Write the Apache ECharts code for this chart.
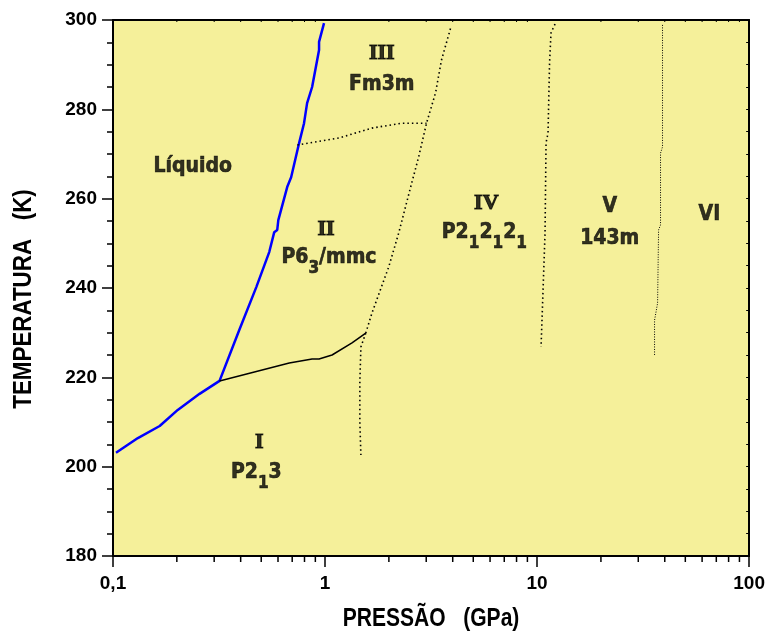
<!DOCTYPE html>
<html lang="pt">
<head>
    <meta charset="UTF-8">
    <title>Diagrama de fases</title>
    <script type="text/javascript" src="https://cdn.jsdelivr.net/npm/echarts@6/dist/echarts.min.js"></script>
    <style>
        html, body { width: 100%; height: 100%; margin: 0; padding: 0; background: #fff; }
        #main { width: 768px; height: 635px; }
    </style>
</head>
<body>
    <div id="main"></div>
    <script>
        // curva de fusão (azul)
        var meltP = [0.1033, 0.131, 0.166, 0.202, 0.256, 0.318, 0.394, 0.474, 0.546, 0.576, 0.595, 0.602, 0.663, 0.692, 0.755, 0.796, 0.823, 0.869, 0.937, 0.937, 0.989];
        var meltT = [203.1, 206.4, 209.1, 212.7, 216.3, 219.2, 230.6, 240.2, 248.1, 252.5, 253.0, 255.2, 262.6, 264.8, 272.5, 276.9, 281.4, 285.0, 293.3, 295.1, 299.3];
        // fronteira I-II (linha contínua)
        var i2P = [0.318, 0.678, 0.869, 0.937, 1.079, 1.34, 1.556];
        var i2T = [219.2, 223.2, 224.1, 224.1, 225.0, 227.7, 229.9];
        // fronteira I-IV (pontilhada, quase vertical)
        var i4P = [1.556, 1.476, 1.459, 1.459, 1.476];
        var i4T = [229.9, 226.8, 219.0, 210.0, 202.6];
        // fronteira II/III - IV
        var iv2P = [1.556, 1.664, 1.996, 2.225, 2.533, 2.762, 3.01, 3.32, 3.54, 3.91];
        var iv2T = [229.9, 234.4, 244.7, 252.3, 262.6, 269.3, 276.9, 283.7, 291.0, 298.2];
        // fronteira II-III
        var ii3P = [0.740, 1.165, 1.664, 2.30, 3.01];
        var ii3T = [272.0, 273.6, 275.8, 276.9, 276.9];
        // fronteira IV-V
        var iv5P = [12.15, 11.63, 11.45, 11.26, 11.02, 10.9, 10.44];
        var iv5T = [299.1, 297.1, 290.4, 274.7, 272.5, 252.3, 226.8];
        // fronteira V-VI
        var v6P = [39.04, 39.04, 39.04, 38.2, 38.2, 37.4, 37.0, 35.8, 35.8];
        var v6T = [298.9, 281.4, 271.6, 270.2, 254.1, 253.0, 236.6, 232.8, 225.0];

        // rótulos das fases
        var labelP = [0.2375, 1.852, 1.852, 1.011, 1.044, 5.76, 5.64, 22.0, 22.0, 64.9, 0.490, 0.474];
        var labelT = [267.2, 292.5, 285.6, 253.1, 245.9, 259.0, 251.5, 258.3, 251.1, 256.5, 205.4, 197.6];
        var labelText = [
            '{s|Líquido}', '{r|III}', '{s|Fm3m}', '{r|II}', '{s|P6}{b|3}{s|/mmc}',
            '{r|IV}', '{s|P2}{b|1}{s|2}{b|1}{s|2}{b|1}', '{s|V}', '{s|143m}', '{s|VI}',
            '{r|I}', '{s|P2}{b|1}{s|3}'
        ];

        var minorTicks = [0.2, 0.3, 0.4, 0.5, 0.6, 0.7, 0.8, 0.9, 2, 3, 4, 5, 6, 7, 8, 9, 20, 30, 40, 50, 60, 70, 80, 90];
        var xTickLabels = { 0.1: '0,1', 1: '1', 10: '10', 100: '100' };

        function zip(a, b) {
            return a.map(function (v, i) { return [v, b[i]]; });
        }

        var sansBold = '"DejaVu Sans Condensed", "Noto Sans", sans-serif';
        var axisFont = '"Liberation Sans", Arial, sans-serif';

        var myChart = echarts.init(document.getElementById('main'));

        var dotted = { color: '#000', width: 1.6, type: [1.5, 3] };

        var option = {
            animation: false,
            backgroundColor: '#fff',
            grid: {
                left: 113, right: 16, top: 20, bottom: 79,
                show: true, backgroundColor: '#f5f09a', borderWidth: 0
            },
            // títulos dos eixos (fonte estreita)
            graphic: [{
                type: 'text', x: 431, y: 619, scaleX: 0.81,
                style: {
                    text: 'PRESSÃO   (GPa)', fill: '#000',
                    font: 'bold 26px "Liberation Sans", Arial, sans-serif',
                    textAlign: 'center', textVerticalAlign: 'middle'
                }
            }, {
                type: 'text', x: 24, y: 299, rotation: Math.PI / 2, scaleX: 0.86,
                style: {
                    text: 'TEMPERATURA   (K)', fill: '#000',
                    font: 'bold 26px "Liberation Sans", Arial, sans-serif',
                    textAlign: 'center', textVerticalAlign: 'middle'
                }
            }],
            xAxis: [{
                type: 'log', logBase: 10, min: 0.1, max: 100,
                position: 'bottom',
                axisLine: { lineStyle: { color: '#000', width: 2 } },
                axisTick: { inside: false, length: 11, lineStyle: { color: '#000', width: 1.5 } },
                splitLine: { show: false },
                axisLabel: {
                    margin: 18, color: '#000', fontSize: 19, fontWeight: 'bold', fontFamily: axisFont,
                    formatter: function (v) {
                        var key = v < 0.5 ? 0.1 : Math.round(v);
                        return xTickLabels[key] || '';
                    }
                }
            }, {
                type: 'log', logBase: 10, min: 0.1, max: 100,
                position: 'top',
                axisLine: { lineStyle: { color: '#000', width: 2 } },
                axisTick: { show: false },
                axisLabel: { show: false },
                splitLine: { show: false }
            }],
            yAxis: [{
                type: 'value', min: 180, max: 300, interval: 20,
                position: 'left',
                axisLine: { lineStyle: { color: '#000', width: 2 } },
                axisTick: { inside: false, length: 11, lineStyle: { color: '#000', width: 1.5 } },
                minorTick: { show: true, splitNumber: 4, length: 6, lineStyle: { color: '#000', width: 1.5 } },
                splitLine: { show: false },
                axisLabel: { margin: 16, color: '#000', fontSize: 19, fontWeight: 'bold', fontFamily: axisFont }
            }, {
                type: 'value', min: 180, max: 300, interval: 5,
                position: 'right',
                axisLine: { lineStyle: { color: '#000', width: 2 } },
                axisTick: { inside: true, length: 3, lineStyle: { color: '#000', width: 1 } },
                axisLabel: { show: false },
                splitLine: { show: false }
            }],
            series: [{
                type: 'line', name: 'fusao', data: zip(meltP, meltT),
                symbol: 'none', lineStyle: { color: '#0000ff', width: 2.5 }
            }, {
                type: 'line', name: 'I-II', data: zip(i2P, i2T),
                symbol: 'none', lineStyle: { color: '#000', width: 1.5 }
            }, {
                type: 'line', name: 'I-IV', data: zip(i4P, i4T),
                symbol: 'none', lineStyle: dotted
            }, {
                type: 'line', name: 'II-IV', data: zip(iv2P, iv2T),
                symbol: 'none', lineStyle: dotted
            }, {
                type: 'line', name: 'II-III', data: zip(ii3P, ii3T),
                symbol: 'none', lineStyle: dotted
            }, {
                type: 'line', name: 'IV-V', data: zip(iv5P, iv5T),
                symbol: 'none', lineStyle: dotted
            }, {
                type: 'line', name: 'V-VI', data: zip(v6P, v6T),
                symbol: 'none', lineStyle: { color: '#000', width: 1, type: [1, 1.5] }
            }, {
                // marcas secundárias do eixo log
                type: 'custom', name: 'ticks', clip: false, silent: true,
                data: minorTicks.map(function (v) { return [v]; }),
                renderItem: function (params, api) {
                    var b = api.coord([api.value(0), 180]);
                    var t = api.coord([api.value(0), 300]);
                    return {
                        type: 'group',
                        children: [
                            { type: 'line', shape: { x1: b[0], y1: b[1], x2: b[0], y2: b[1] + 6 }, style: { stroke: '#000', lineWidth: 1.5 } },
                            { type: 'line', shape: { x1: t[0], y1: t[1], x2: t[0], y2: t[1] + 2 }, style: { stroke: '#000', lineWidth: 1 } }
                        ]
                    };
                }
            }, {
                type: 'scatter', name: 'rotulos',
                data: labelP.map(function (p, i) { return [p, labelT[i], labelText[i]]; }),
                symbol: 'circle', symbolSize: 1,
                itemStyle: { color: 'transparent' },
                silent: true,
                label: {
                    show: true, position: 'inside',
                    formatter: function (p) { return p.data[2]; },
                    rich: {
                        s: { fontFamily: sansBold, fontWeight: 'bold', fontSize: 21, color: '#000', textBorderColor: '#000', textBorderWidth: 0.6, verticalAlign: 'top' },
                        b: { fontFamily: sansBold, fontWeight: 'bold', fontSize: 17, color: '#000', textBorderColor: '#000', textBorderWidth: 0.6, verticalAlign: 'top', padding: [13, 0, 0, 0] },
                        r: { fontFamily: '"Liberation Serif", "DejaVu Serif", serif', fontWeight: 'bold', fontSize: 22, color: '#000', textBorderColor: '#000', textBorderWidth: 1, verticalAlign: 'top' }
                    }
                }
            }]
        };
        myChart.setOption(option);

        window.addEventListener('resize', function () {
            myChart.resize();
        });
    </script>
</body>
</html>
